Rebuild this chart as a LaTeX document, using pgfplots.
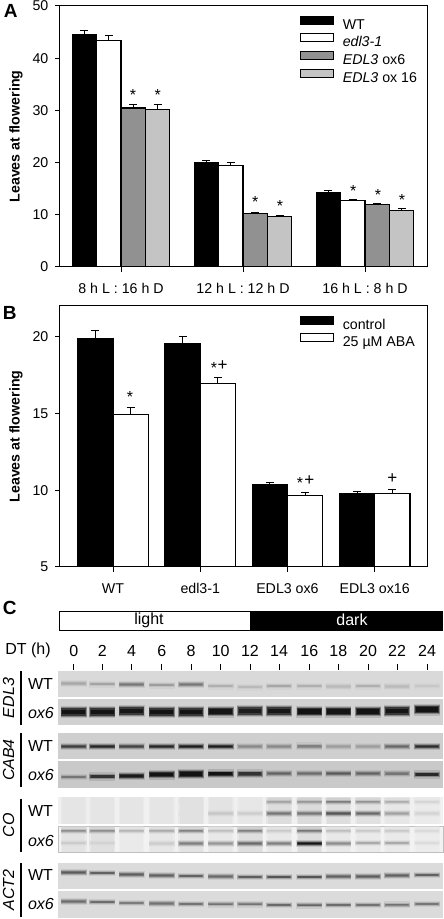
\documentclass[border=0pt]{standalone}
\usepackage{fontspec}
\setmainfont{Liberation Sans}
\usepackage{pgfplots}
\pgfplotsset{compat=1.18}
\usetikzlibrary{plotmarks}
\newcommand{\fa}{\fontsize{14.2}{16}\selectfont}
\newcommand{\fb}{\fontsize{16}{18}\selectfont}
\newcommand{\fl}{\fontsize{19}{21}\selectfont\bfseries}
\pgfdeclareplotmark{band}{%
  \pgfsetcornersarced{\pgfpoint{4pt}{\pgfplotmarksize+1pt}}%
  \pgfsetfillopacity{0.13}%
  \pgfpathrectanglecorners{\pgfpoint{-13pt}{-\pgfplotmarksize-2.2pt}}{\pgfpoint{13pt}{\pgfplotmarksize+2.2pt}}\pgfusepathqfill
  \pgfsetfillopacity{0.28}%
  \pgfpathrectanglecorners{\pgfpoint{-12.8pt}{-\pgfplotmarksize-1pt}}{\pgfpoint{12.8pt}{\pgfplotmarksize+1pt}}\pgfusepathqfill
  \pgfsetcornersarced{\pgfpoint{3pt}{0.9*\pgfplotmarksize}}%
  \pgfsetfillopacity{0.6}%
  \pgfpathrectanglecorners{\pgfpoint{-12.3pt}{-\pgfplotmarksize}}{\pgfpoint{12.3pt}{\pgfplotmarksize}}\pgfusepathqfill
  \pgfsetcornersarced{\pgfpoint{3pt}{0.5*\pgfplotmarksize}}%
  \pgfsetfillopacity{0.7}%
  \pgfpathrectanglecorners{\pgfpoint{-11.3pt}{-0.6*\pgfplotmarksize}}{\pgfpoint{11.3pt}{0.6*\pgfplotmarksize}}\pgfusepathqfill
}
\pgfdeclareplotmark{lane}{%
  \pgfsetfillopacity{0.25}%
  \pgfpathrectanglecorners{\pgfpoint{-12.8pt}{-\pgfplotmarksize}}{\pgfpoint{12.8pt}{\pgfplotmarksize}}\pgfusepathqfill
  \pgfsetfillopacity{0.3}%
  \pgfpathrectanglecorners{\pgfpoint{-11.5pt}{-\pgfplotmarksize}}{\pgfpoint{11.5pt}{\pgfplotmarksize}}\pgfusepathqfill
}
\pgfplotsset{
  colormap={gelL}{gray(0cm)=(0.92); gray(1cm)=(0)},
  colormap={gel}{gray(0cm)=(0.8); gray(1cm)=(0)},
  barpanel/.style={
    scale only axis, width=367pt, height=261pt, anchor=south west,
    ybar=0pt, axis line style={line width=1pt}, tick style={line width=1pt,black},
    tick align=outside, tick pos=left, major tick length=5pt,
    /pgf/number format/assume math mode=true,
    tick label style={font=\fa},
    yticklabel style={inner sep=0pt,xshift=-6.5pt},
    xticklabel style={inner sep=0pt,yshift=-11pt,text height=10pt,text depth=0pt},
    every axis y label/.style={at={(axis description cs:-0.12,0.5)},rotate=90,anchor=center,font=\fa\bfseries},
    legend cell align=left,
    legend image code/.code={\draw[draw=black,line width=1.1pt,##1] (0pt,1pt) rectangle (33pt,9pt);\path (41.5pt,0pt);},
    legend style={draw=none,fill=none,inner sep=0pt,row sep=0pt,column sep=0pt,font=\fa,
      nodes={inner sep=0pt,text height=12pt,text depth=4.2pt}},
    enlargelimits=false,
  },
  br/.style={draw=black,line width=1.1pt,fill=#1,
    error bars/.cd,y dir=plus,y explicit,
    error bar style={line width=1pt,black},
    error mark options={rotate=90,mark size=4pt,line width=1pt,black}},
  bands/.style={scatter,only marks,mark=band,mark size=#1,point meta=explicit,
    scatter/use mapped color={fill=mapped color,draw=none}},
  lanes/.style={scatter,only marks,mark=lane,mark size=#1,point meta=explicit,colormap name=gelL,
    scatter/use mapped color={fill=mapped color,draw=none}},
  gelbg/.style={draw=none,fill=black!#1,forget plot},
}
\newcommand{\St}[2]{\node[inner sep=0pt,font=\fontsize{16}{18}\selectfont,anchor=north] at (axis cs:#1,#2-3.2) {*};}
\newcommand{\Pl}[2]{\node[inner sep=0pt,font=\fontsize{17}{19}\selectfont,anchor=base] at (axis cs:#1,#2+5.2) {+};}
\begin{document}
\begin{tikzpicture}[x=1pt,y=1pt]
\path[use as bounding box] (0,0) rectangle (444pt,919pt);
% ---- Panel A
\begin{axis}[barpanel, at={(60pt,652pt)}, bar width=24.4pt,
  xmin=-0.5,xmax=2.508,ymin=0,ymax=50,
  xtick={0,1,2},xticklabels={8 h L : 16 h D,12 h L : 12 h D,16 h L : 8 h D},
  ytick={0,10,20,30,40,50},ylabel={Leaves at flowering},
  legend style={at={(240/367,1-9.5/261)},anchor=north west}]
\addplot[br=black] coordinates {(0,44.5) +- (0,0.85) (1,19.95) +- (0,0.45) (2,14.2) +- (0,0.4)};
\addplot[br=white] coordinates {(0,43.45) +- (0,0.95) (1,19.5) +- (0,0.45) (2,12.7) +- (0,0.3)};
\addplot[br={black!43}] coordinates {(0,30.45) +- (0,0.65) (1,10.3) +- (0,0.2) (2,11.9) +- (0,0.25)};
\addplot[br={black!23}] coordinates {(0,30.1) +- (0,1.0) (1,9.75) +- (0,0.15) (2,10.8) +- (0,0.35)};
\legend{WT,\textit{edl3-1},\textit{EDL3} ox6,\textit{EDL3} ox 16}
\end{axis}
% ---- Panel B
\begin{axis}[barpanel, at={(60pt,352pt)}, bar width=35.3pt,
  xmin=-0.608,xmax=3.6,ymin=5,ymax=22,
  xtick={0,1,2,3},xticklabels={WT,edl3-1,EDL3 ox6,EDL3 ox16},
  ytick={5,10,15,20},ylabel={Leaves at flowering},
  legend style={at={(240/367,1-9.5/261)},anchor=north west}]
\addplot[br=black] coordinates {(0,19.9) +- (0,0.52) (1,19.55) +- (0,0.45) (2,10.38) +- (0,0.13) (3,9.78) +- (0,0.12)};
\addplot[br=white] coordinates {(0,14.92) +- (0,0.5) (1,16.96) +- (0,0.41) (2,9.65) +- (0,0.19) (3,9.8) +- (0,0.24)};
\legend{control,25 µM ABA}
\end{axis}
% ---- Panel C and annotations, in picture pixels
\begin{axis}[scale only axis,width=444pt,height=919pt,at={(0pt,0pt)},anchor=south west,
  hide axis,clip=false,xmin=0,xmax=444,ymin=0,ymax=919,y dir=reverse,
  colormap name=gel,point meta min=0,point meta max=1]
% photoperiod bar
\addplot[draw=black,line width=1pt,fill=white,forget plot] coordinates {(59,611)(250,611)(250,630.5)(59,630.5)} --cycle;
\addplot[draw=black,line width=1pt,fill=black,forget plot] coordinates {(250,611)(442,611)(442,630.5)(250,630.5)} --cycle;
% gel backgrounds
\addplot[gelbg=15] coordinates {(58.3,671)(443.3,671)(443.3,697)(58.3,697)} --cycle;
\addplot[gelbg=18] coordinates {(58.3,699)(443.3,699)(443.3,725)(58.3,725)} --cycle;
\addplot[gelbg=19] coordinates {(58.3,733)(443.3,733)(443.3,759)(58.3,759)} --cycle;
\addplot[gelbg=21] coordinates {(58.3,761)(443.3,761)(443.3,788)(58.3,788)} --cycle;
\addplot[gelbg=6] coordinates {(58.3,797)(443.3,797)(443.3,824)(58.3,824)} --cycle;
\addplot[draw=black!25,line width=0.5pt,fill=black!5,forget plot] coordinates {(58.3,826)(443.3,826)(443.3,852.5)(58.3,852.5)} --cycle;
\addplot[gelbg=14] coordinates {(58.3,863)(443.3,863)(443.3,889)(58.3,889)} --cycle;
\addplot[gelbg=14] coordinates {(58.3,891)(443.3,891)(443.3,918)(58.3,918)} --cycle;
% CO gel lanes
\addplot[lanes=13.3pt] coordinates {(73.7,810.5)[.07](102.2,810.5)[.06](131.6,810.5)[.06](161.7,810.5)[.06](191,810.5)[.1](220.7,810.5)[.08](250,810.5)[.05](279,810.5)[.14](309.3,810.5)[.16](338.3,810.5)[.13](368,810.5)[.11](397,810.5)[.05](427,810.5)[.01]};
\addplot[lanes=13pt] coordinates {(73.7,839.2)[.1](102.2,839.2)[.12](131.6,839.2)[.03](161.7,839.2)[.06](191,839.2)[.1](220.7,839.2)[.05](250,839.2)[.14](279,839.2)[.05](309.3,839.2)[.15](338.3,839.2)[.04](368,839.2)[.03](397,839.2)[.03](427,839.2)[.01]};
% EDL3 WT
\addplot[bands=1.3pt] coordinates {(73.7,683.5)[.2](102.2,684)[.22](131.6,684.5)[.45](161.7,685)[.25](191,684.5)[.45](220.7,686)[.15](250,687)[.1](279,686)[.2](309.3,686)[.15](338.3,686.5)[.1](368,686)[.15](397,686.5)[.1](427,686)[.03]};
% EDL3 ox6
\addplot[bands=3.8pt] coordinates {(73.7,712)[.97](102.2,712)[.97](131.6,711)[.95](161.7,712)[.97](191,712)[.97](220.7,711.5)[.96](250,711)[.92](279,711)[.95](309.3,711.5)[.97](338.3,711.5)[.96](368,711.5)[.97](397,711)[.96](427,709.5)[.97]};
% CAB4 WT
\addplot[bands=1.5pt] coordinates {(73.7,746.5)[.75](102.2,746.5)[.88](131.6,746.5)[.72](161.7,746.5)[.88](191,746.5)[.93](220.7,746.5)[.93](250,746.5)[.35](279,746.5)[.35](309.3,746)[.4](338.3,746.5)[.25](368,746.5)[.25](397,746.5)[.52](427,746.5)[.85]};
% CAB4 ox6
\addplot[bands=1.2pt] coordinates {(73.7,777)[.45]};
\addplot[bands=1.9pt] coordinates {(102.2,776.5)[.8](131.6,776)[.93]};
\addplot[bands=2.8pt] coordinates {(161.7,774.5)[.97](191,774)[.97]};
\addplot[bands=2pt] coordinates {(220.7,773.5)[.97](250,773.5)[.8]};
\addplot[bands=1.4pt] coordinates {(279,773.5)[.55](309.3,773.5)[.5](338.3,773.5)[.6](368,773.5)[.55](397,773.8)[.45]};
\addplot[bands=1.9pt] coordinates {(427,774.5)[.85]};
% CO WT, upper and lower bands
\addplot[bands=1pt,colormap name=gelL] coordinates {(191,801.5)[.04](279,801.5)[.33](309.3,801.5)[.38](338.3,801.5)[.5](368,801.5)[.4](397,801.5)[.28](427,801.5)[.1]};
\addplot[bands=1.1pt,colormap name=gelL] coordinates {(191,813.5)[.04](220.7,813.5)[.16](250,813.5)[.13](279,813.5)[.52](309.3,813.5)[.52](338.3,813.5)[.68](368,813.5)[.58](397,813.5)[.33](427,813.5)[.1]};
% CO ox6, upper and lower bands
\addplot[bands=1pt,colormap name=gelL] coordinates {(73.7,830.5)[.42](102.2,830.5)[.42](131.6,830.5)[.25](161.7,830.5)[.3](191,830.5)[.48](220.7,830.5)[.2](250,830.5)[.48](279,830.5)[.15](309.3,830.5)[.52](338.3,830.5)[.2](368,830.5)[.15](397,830.5)[.15](427,830.5)[.08]};
\addplot[bands=1.1pt,colormap name=gelL] coordinates {(73.7,843)[.14](102.2,843)[.1](161.7,843.5)[.14](191,843.5)[.48](220.7,843.5)[.38](250,843.5)[.58](279,843.5)[.48](309.3,843.5)[.97](338.3,843.5)[.42](368,843)[.3](397,843)[.3](427,843)[.06]};
% ACT2 WT
\addplot[bands=1.2pt] coordinates {(73.7,872.5)[.6](102.2,873)[.56](131.6,874.5)[.58](161.7,875.5)[.56](191,876)[.56](220.7,876.5)[.52](250,877)[.58](279,877)[.63](309.3,877)[.63](338.3,876.5)[.56](368,876.5)[.58](397,875.5)[.56](427,875)[.56]};
% ACT2 ox6
\addplot[bands=1.1pt] coordinates {(73.7,901.5)[.5](102.2,902)[.5](131.6,903)[.42](161.7,903.5)[.47](191,904)[.47](220.7,904.3)[.47](250,904.3)[.47](279,905)[.52](309.3,905.3)[.55](338.3,905)[.5](368,905)[.47](397,904.7)[.47](427,904)[.45]};
% lane ticks
\addplot[black,line width=1pt,forget plot] coordinates {(73.7,664)(73.7,670)}; \addplot[black,line width=1pt,forget plot] coordinates {(102.2,664)(102.2,670)};
\addplot[black,line width=1pt,forget plot] coordinates {(131.6,664)(131.6,670)}; \addplot[black,line width=1pt,forget plot] coordinates {(161.7,664)(161.7,670)};
\addplot[black,line width=1pt,forget plot] coordinates {(191,664)(191,670)}; \addplot[black,line width=1pt,forget plot] coordinates {(220.7,664)(220.7,670)};
\addplot[black,line width=1pt,forget plot] coordinates {(250,664)(250,670)}; \addplot[black,line width=1pt,forget plot] coordinates {(279,664)(279,670)};
\addplot[black,line width=1pt,forget plot] coordinates {(309.3,664)(309.3,670)}; \addplot[black,line width=1pt,forget plot] coordinates {(338.3,664)(338.3,670)};
\addplot[black,line width=1pt,forget plot] coordinates {(368,664)(368,670)}; \addplot[black,line width=1pt,forget plot] coordinates {(397,664)(397,670)};
\addplot[black,line width=1pt,forget plot] coordinates {(427,664)(427,670)};
% gene brackets
\addplot[black,line width=2pt,forget plot] coordinates {(21.3,671)(21.3,725)};
\addplot[black,line width=2pt,forget plot] coordinates {(21.3,733)(21.3,787)};
\addplot[black,line width=2pt,forget plot] coordinates {(21.3,798.5)(21.3,852)};
\addplot[black,line width=2pt,forget plot] coordinates {(21.3,863)(21.3,917)};
% text
\node[font=\fl,inner sep=0pt] at (axis cs:10.7,10.7) {A};
\node[font=\fl,inner sep=0pt] at (axis cs:9.7,313) {B};
\node[font=\fl,inner sep=0pt] at (axis cs:9.7,607.7) {C};
\St{133}{92}\St{157.7}{92.5}\St{255.3}{199.5}\St{280}{203.5}\St{353.3}{188}\St{378}{192}\St{402}{197.5}
\St{130}{394}\St{214}{365.7}\Pl{222.7}{365}\St{300}{480}\Pl{309.3}{480}\Pl{392.3}{478}
\node[font=\fb,inner sep=0pt] at (axis cs:149,620) {light};
\node[font=\fb,inner sep=0pt,text=white] at (axis cs:352,620) {dark};
\node[font=\fb,inner sep=0pt] at (axis cs:28,650) {DT (h)};
\node[font=\fb,inner sep=0pt] at (axis cs:73.7,651) {0}; \node[font=\fb,inner sep=0pt] at (axis cs:102.2,651) {2};
\node[font=\fb,inner sep=0pt] at (axis cs:131.6,651) {4}; \node[font=\fb,inner sep=0pt] at (axis cs:161.7,651) {6};
\node[font=\fb,inner sep=0pt] at (axis cs:191,651) {8}; \node[font=\fb,inner sep=0pt] at (axis cs:220.7,651) {10};
\node[font=\fb,inner sep=0pt] at (axis cs:250,651) {12}; \node[font=\fb,inner sep=0pt] at (axis cs:279,651) {14};
\node[font=\fb,inner sep=0pt] at (axis cs:309.3,651) {16}; \node[font=\fb,inner sep=0pt] at (axis cs:338.3,651) {18};
\node[font=\fb,inner sep=0pt] at (axis cs:368,651) {20}; \node[font=\fb,inner sep=0pt] at (axis cs:397,651) {22};
\node[font=\fb,inner sep=0pt] at (axis cs:427,651) {24};
\node[font=\fb\itshape,inner sep=0pt,rotate=90] at (axis cs:8.5,698) {EDL3};
\node[font=\fb\itshape,inner sep=0pt,rotate=90] at (axis cs:8.5,760) {CAB4};
\node[font=\fb\itshape,inner sep=0pt,rotate=90] at (axis cs:8.5,825) {CO};
\node[font=\fb\itshape,inner sep=0pt,rotate=90] at (axis cs:8.5,890) {ACT2};
\node[font=\fb,inner sep=0pt] at (axis cs:40.5,684) {WT};
\node[font=\fb,inner sep=0pt] at (axis cs:40.5,746) {WT};
\node[font=\fb,inner sep=0pt] at (axis cs:40.5,811) {WT};
\node[font=\fb,inner sep=0pt] at (axis cs:40.5,875) {WT};
\node[font=\fb\itshape,inner sep=0pt] at (axis cs:41,713) {ox6};
\node[font=\fb\itshape,inner sep=0pt] at (axis cs:41,775) {ox6};
\node[font=\fb\itshape,inner sep=0pt] at (axis cs:41,841) {ox6};
\node[font=\fb\itshape,inner sep=0pt] at (axis cs:41,904) {ox6};
\end{axis}
\end{tikzpicture}
\end{document}
